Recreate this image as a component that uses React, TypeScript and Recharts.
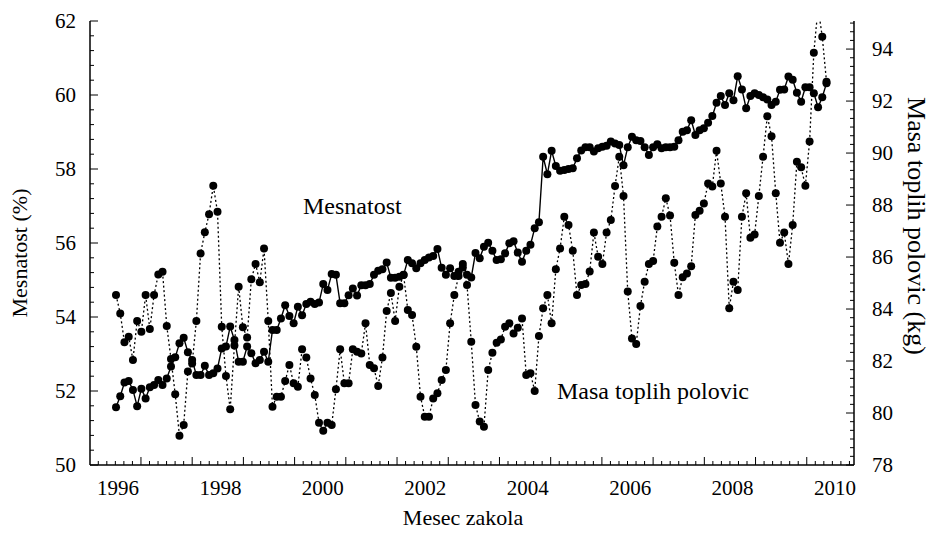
import React from 'react';
import { LineChart, Line, XAxis, YAxis } from 'recharts';

// Monthly values, Jan 1996 .. Jan 2010 (index = month number)
const mesnatost: number[] = [
  51.56, 51.86, 52.23, 52.27, 52.03, 51.59, 52.06, 51.80, 52.10, 52.16,
  52.30, 52.16, 52.34, 52.66, 52.91, 53.29, 53.44, 53.05, 52.84, 52.43,
  52.43, 52.68, 52.43, 52.48, 52.61, 53.15, 53.20, 53.74, 53.38, 52.79,
  52.79, 53.20, 53.02, 52.75, 52.84, 53.06, 52.79, 53.65, 53.65, 53.96,
  54.32, 54.03, 53.83, 54.28, 54.05, 54.35, 54.41, 54.35, 54.39, 54.89,
  54.73, 55.16, 55.14, 54.37, 54.37, 54.59, 54.77, 54.58, 54.86, 54.86,
  54.89, 55.14, 55.25, 55.29, 55.47, 55.06, 55.06, 55.09, 55.14, 55.54,
  55.45, 55.32, 55.45, 55.54, 55.61, 55.65, 55.84, 55.33, 55.14, 55.32,
  55.11, 55.22, 55.43, 55.14, 55.07, 55.73, 55.59, 55.90, 56.01, 55.79,
  55.54, 55.56, 55.72, 55.99, 56.05, 55.74, 55.49, 55.79, 55.95, 56.40,
  56.56, 58.33, 57.86, 58.49, 58.08, 57.95, 57.97, 58.00, 58.02, 58.29,
  58.50, 58.59, 58.59, 58.47, 58.56, 58.60, 58.63, 58.74, 58.69, 58.65,
  58.10, 58.59, 58.87, 58.78, 58.76, 58.59, 58.38, 58.59, 58.67, 58.56,
  58.59, 58.59, 58.60, 58.78, 59.01, 59.05, 59.32, 58.92, 59.05, 59.10,
  59.25, 59.43, 59.79, 59.97, 59.73, 60.05, 59.86, 60.51, 60.15, 59.64,
  59.97, 60.05, 60.00, 59.94, 59.88, 59.73, 59.82, 60.14, 60.15, 60.50,
  60.41, 60.06, 59.82, 60.21, 60.21, 60.05, 59.67, 59.94, 60.32,
];

const masaToplihPolovic: number[] = [
  84.54, 83.83, 82.72, 82.93, 82.04, 83.54, 83.13, 84.54, 83.23, 84.54,
  85.33, 85.43, 83.35, 82.08, 80.72, 79.13, 79.54, 81.60, 81.90, 83.54,
  86.14, 86.95, 87.65, 88.74, 87.74, 83.32, 81.42, 80.14, 82.60, 84.86,
  83.30, 82.90, 85.15, 85.73, 85.03, 86.33, 83.54, 80.24, 80.63, 80.63,
  81.23, 81.85, 81.14, 81.01, 82.45, 82.14, 81.33, 80.69, 79.63, 79.32,
  79.63, 79.54, 80.91, 82.45, 81.14, 81.14, 82.45, 82.36, 82.29, 83.45,
  81.85, 81.72, 81.04, 82.14, 83.92, 84.62, 83.54, 84.86, 85.31, 83.96,
  83.77, 82.55, 80.63, 79.86, 79.86, 80.56, 80.76, 81.27, 81.65, 83.45,
  84.54, 85.27, 85.60, 84.92, 82.74, 80.31, 79.67, 79.47, 81.65, 82.32,
  82.70, 82.83, 83.32, 83.45, 83.06, 83.28, 83.64, 81.46, 81.53, 80.85,
  82.96, 84.03, 84.54, 83.45, 85.53, 86.33, 87.55, 87.23, 86.24, 84.54,
  84.92, 84.96, 85.44, 86.94, 86.01, 85.73, 86.94, 87.42, 88.73, 89.86,
  88.35, 84.67, 82.87, 82.65, 84.12, 85.05, 85.73, 85.85, 87.17, 87.55,
  88.26, 87.60, 85.78, 84.54, 85.22, 85.37, 85.65, 87.62, 87.78, 88.06,
  88.83, 88.71, 90.09, 88.83, 87.55, 84.03, 85.05, 84.73, 87.55, 88.45,
  86.74, 86.87, 88.35, 89.86, 91.42, 90.65, 88.45, 86.55, 86.94, 85.73,
  87.23, 89.67, 89.45, 88.74, 90.44, 93.86, 95.60, 94.47, 92.74,
];

const yearLabels: string[] = ['1996', '1998', '2000', '2002', '2004', '2006', '2008', '2010'];
const leftTickLabels: number[] = [50, 52, 54, 56, 58, 60, 62];
const rightTickLabels: number[] = [78, 80, 82, 84, 86, 88, 90, 92, 94];

const data = mesnatost.map((v, i) => ({ m: i, mesnatost: v, masa: masaToplihPolovic[i] }));

const FONT = "'Liberation Serif', 'Times New Roman', Times, serif";
const FS = 21;

// ---- axis tick layout (in month units) ----
const X_MIN = -6.15;
const X_MAX = 174.5;
const MONTHS_PER_YEAR = 12.11;
const FIRST_MAJOR = 5.9;
const FIRST_LABEL = 0.47;

type XDef = { v: number; kind: 'major' | 'minor' | 'label'; text?: string };
const xDefs: XDef[] = [];
for (let k = -5; ; k++) {
  const v = FIRST_MAJOR + (k * MONTHS_PER_YEAR) / 6;
  if (v > X_MAX) break;
  if (v < X_MIN) continue;
  xDefs.push({ v, kind: ((k % 6) + 6) % 6 === 0 ? 'major' : 'minor' });
}
yearLabels.forEach((t, j) => xDefs.push({ v: FIRST_LABEL + j * 2 * MONTHS_PER_YEAR, kind: 'label', text: t }));
const xTicks = xDefs.map((d) => d.v);

const leftTicks: number[] = [];
for (let k = 0; k <= 30; k++) leftTicks.push(50 + k * 0.4);
const rightTicks: number[] = [];
for (let k = 0; k <= 51; k++) rightTicks.push(78 + k / 3);

const XTick = (props: any) => {
  const { x, y, payload } = props;
  const def = xDefs.find((d) => Math.abs(d.v - payload.value) < 1e-6);
  if (!def) return null;
  if (def.kind === 'label') {
    return (
      <text x={x} y={y + 30} textAnchor="middle" fontFamily={FONT} fontSize={FS} fill="#000">
        {def.text}
      </text>
    );
  }
  const len = def.kind === 'major' ? 8 : 4;
  return <line x1={x} x2={x} y1={y} y2={y - len} stroke="#000" strokeWidth={1} />;
};

const LeftTick = (props: any) => {
  const { x, y, payload } = props;
  const v = payload.value;
  const lab = leftTickLabels.find((t) => Math.abs(t - v) < 1e-6);
  const major = lab !== undefined;
  return (
    <g>
      <line x1={x} x2={x + (major ? 8 : 4)} y1={y} y2={y} stroke="#000" strokeWidth={1} />
      {major && (
        <text x={x - 14} y={y + 7} textAnchor="end" fontFamily={FONT} fontSize={FS} fill="#000">
          {lab}
        </text>
      )}
    </g>
  );
};

const RightTick = (props: any) => {
  const { x, y, payload } = props;
  const v = payload.value;
  const lab = rightTickLabels.find((t) => Math.abs(t - v) < 1e-6);
  const major = lab !== undefined;
  return (
    <g>
      <line x1={x} x2={x - (major ? 8 : 4)} y1={y} y2={y} stroke="#000" strokeWidth={1} />
      {major && (
        <text x={x + 18} y={y + 7} textAnchor="start" fontFamily={FONT} fontSize={FS} fill="#000">
          {lab}
        </text>
      )}
    </g>
  );
};

export default function App() {
  return (
    <div style={{ position: 'absolute', left: 0, top: 0, width: 932, height: 535, background: '#fff' }}>
      <LineChart width={932} height={535} data={data} margin={{ top: 21, right: 18, left: 30, bottom: 30 }}>
        <XAxis
          dataKey="m"
          type="number"
          domain={[X_MIN, X_MAX]}
          allowDataOverflow
          ticks={xTicks}
          interval={0}
          tick={<XTick />}
          tickLine={false}
          tickSize={0}
          tickMargin={0}
          height={40}
          axisLine={{ stroke: '#000', strokeWidth: 1.5 }}
        />
        <YAxis
          yAxisId="left"
          orientation="left"
          domain={[50, 62]}
          allowDataOverflow
          ticks={leftTicks}
          interval={0}
          tick={<LeftTick />}
          tickLine={false}
          tickSize={0}
          tickMargin={0}
          width={60}
          axisLine={{ stroke: '#000', strokeWidth: 1.5 }}
        />
        <YAxis
          yAxisId="right"
          orientation="right"
          domain={[78, 95.08]}
          allowDataOverflow
          ticks={rightTicks}
          interval={0}
          tick={<RightTick />}
          tickLine={false}
          tickSize={0}
          tickMargin={0}
          width={60}
          axisLine={{ stroke: '#000', strokeWidth: 1.5 }}
        />
        <Line
          yAxisId="right"
          dataKey="masa"
          type="linear"
          stroke="#000"
          strokeWidth={1.3}
          strokeDasharray="2 2.5"
          dot={{ r: 4, fill: '#000', stroke: 'none', strokeDasharray: '' }}
          isAnimationActive={false}
        />
        <Line
          yAxisId="left"
          dataKey="mesnatost"
          type="linear"
          stroke="#000"
          strokeWidth={1.4}
          dot={{ r: 4, fill: '#000', stroke: 'none' }}
          isAnimationActive={false}
        />
        <text x={303} y={214} fontFamily={FONT} fontSize={24} fill="#000">Mesnatost</text>
        <text x={557} y={399} fontFamily={FONT} fontSize={24} fill="#000">Masa toplih polovic</text>
        <text x={463} y={525} textAnchor="middle" fontFamily={FONT} fontSize={22} fill="#000">Mesec zakola</text>
        <text
          x={19}
          y={253}
          textAnchor="middle"
          dominantBaseline="central"
          transform="rotate(-90 19 253)"
          fontFamily={FONT}
          fontSize={22}
          fill="#000"
        >
          Mesnatost (%)
        </text>
        <text
          x={916}
          y={226}
          textAnchor="middle"
          dominantBaseline="central"
          transform="rotate(90 916 226)"
          fontFamily={FONT}
          fontSize={26}
          fill="#000"
        >
          Masa toplih polovic (kg)
        </text>
      </LineChart>
    </div>
  );
}
